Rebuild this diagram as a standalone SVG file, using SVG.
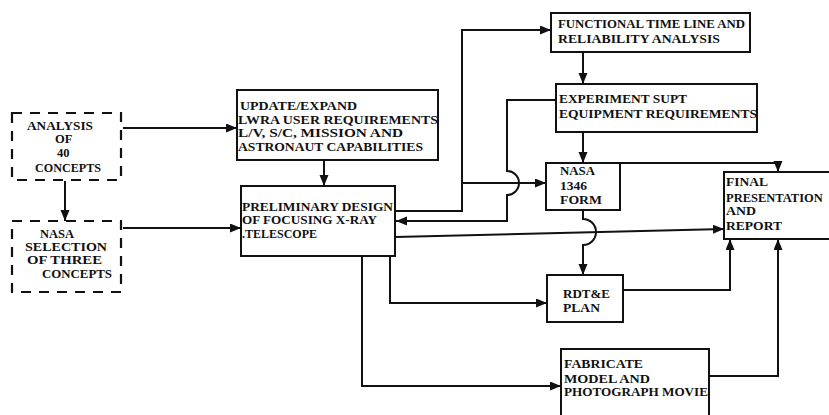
<svg xmlns="http://www.w3.org/2000/svg" width="829" height="415" viewBox="0 0 829 415">
<defs>
<marker id="ah" markerUnits="userSpaceOnUse" markerWidth="12" markerHeight="10" refX="11" refY="4.5" orient="auto">
<path d="M0,0 L11,4.5 L0,9 z" fill="#111"/>
</marker>
<style>
.box{fill:#fff;stroke:#111;stroke-width:2}
.dash{fill:#fff;stroke:#111;stroke-width:2.2;stroke-dasharray:10 8}
.t{font-family:"Liberation Serif","Times New Roman",serif;font-weight:bold;font-size:12.5px;fill:#111}
.c{fill:none;stroke:#111;stroke-width:2}
.ca{fill:none;stroke:#111;stroke-width:2;marker-end:url(#ah)}
</style>
</defs>
<rect width="829" height="415" fill="#fff"/>

<g id="connectors">
<path class="ca" d="M123,128 H237"/>
<path class="ca" d="M123,228 H241"/>
<path class="ca" d="M65,181 V221"/>
<path class="ca" d="M324,160 V186"/>
<path class="ca" d="M395,211 H462 V30 H551"/>
<path class="ca" d="M462,183 H546"/>
<path class="ca" d="M556,100 H507 V171 A12,12 0 0 1 507,195 V221 H396"/>
<path class="ca" d="M395,237 L724,229"/>
<path class="ca" d="M583,52 V84"/>
<path class="ca" d="M583,132 V163"/>
<path class="ca" d="M583,210 V219 A13,13 0 0 1 583,245 V275"/>
<path class="ca" d="M620,163 H778 V172"/>
<path class="ca" d="M623,290 H730 V239"/>
<path class="ca" d="M709,376 H778 V239"/>
<path class="ca" d="M390,256 V303 H547"/>
<path class="ca" d="M362,256 V386 H561"/>
</g>

<g id="analysis">
<rect class="dash" x="12" y="113" width="109" height="67"/>
<text class="t" x="27" y="130" textLength="66" lengthAdjust="spacingAndGlyphs">ANALYSIS</text>
<text class="t" x="55" y="143">OF</text>
<text class="t" x="57" y="157">40</text>
<text class="t" x="35" y="172" textLength="66" lengthAdjust="spacingAndGlyphs">CONCEPTS</text>
</g>

<g id="selection">
<rect class="dash" x="12" y="221" width="109" height="71"/>
<text class="t" x="40" y="238">NASA</text>
<text class="t" x="25" y="251" textLength="82" lengthAdjust="spacingAndGlyphs">SELECTION</text>
<text class="t" x="27" y="264" textLength="75" lengthAdjust="spacingAndGlyphs">OF THREE</text>
<text class="t" x="42" y="278" textLength="70" lengthAdjust="spacingAndGlyphs">CONCEPTS</text>
</g>

<g id="update">
<rect class="box" x="237" y="90" width="201" height="70"/>
<text class="t" x="240" y="110" textLength="117" lengthAdjust="spacingAndGlyphs">UPDATE/EXPAND</text>
<text class="t" x="238" y="124" textLength="200" lengthAdjust="spacingAndGlyphs">LWRA USER REQUIREMENTS</text>
<text class="t" x="238" y="137" textLength="165" lengthAdjust="spacingAndGlyphs">L/V, S/C, MISSION AND</text>
<text class="t" x="238" y="151" textLength="185" lengthAdjust="spacingAndGlyphs">ASTRONAUT CAPABILITIES</text>
</g>

<g id="preliminary">
<rect class="box" x="241" y="186" width="154" height="70"/>
<text class="t" x="242" y="211" textLength="151" lengthAdjust="spacingAndGlyphs">PRELIMINARY DESIGN</text>
<text class="t" x="242" y="224" textLength="135" lengthAdjust="spacingAndGlyphs">OF FOCUSING X-RAY</text>
<text class="t" x="242" y="238" textLength="75" lengthAdjust="spacingAndGlyphs">.TELESCOPE</text>
</g>

<g id="functional">
<rect class="box" x="551" y="13" width="199" height="39"/>
<text class="t" x="558" y="28" textLength="187" lengthAdjust="spacingAndGlyphs">FUNCTIONAL TIME LINE AND</text>
<text class="t" x="558" y="43" textLength="162" lengthAdjust="spacingAndGlyphs">RELIABILITY ANALYSIS</text>
</g>

<g id="experiment">
<rect class="box" x="556" y="84" width="201" height="48"/>
<text class="t" x="559" y="103" textLength="128" lengthAdjust="spacingAndGlyphs">EXPERIMENT SUPT</text>
<text class="t" x="559" y="118" textLength="198" lengthAdjust="spacingAndGlyphs">EQUIPMENT REQUIREMENTS</text>
</g>

<g id="nasa1346">
<rect class="box" x="546" y="163" width="74" height="47"/>
<text class="t" x="560" y="175" textLength="35" lengthAdjust="spacingAndGlyphs">NASA</text>
<text class="t" x="560" y="190" textLength="27" lengthAdjust="spacingAndGlyphs">1346</text>
<text class="t" x="560" y="204" textLength="42" lengthAdjust="spacingAndGlyphs">FORM</text>
</g>

<g id="final">
<rect class="box" x="724" y="172" width="115" height="67"/>
<text class="t" x="726" y="186" textLength="42" lengthAdjust="spacingAndGlyphs">FINAL</text>
<text class="t" x="726" y="202">PRESENTATION</text>
<text class="t" x="726" y="215" textLength="30" lengthAdjust="spacingAndGlyphs">AND</text>
<text class="t" x="726" y="230" textLength="56" lengthAdjust="spacingAndGlyphs">REPORT</text>
</g>

<g id="rdte">
<rect class="box" x="547" y="275" width="76" height="47"/>
<text class="t" x="563" y="298" textLength="47" lengthAdjust="spacingAndGlyphs">RDT&amp;E</text>
<text class="t" x="563" y="312" textLength="37" lengthAdjust="spacingAndGlyphs">PLAN</text>
</g>

<g id="fabricate">
<rect class="box" x="561" y="349" width="148" height="75"/>
<text class="t" x="564" y="368" textLength="79" lengthAdjust="spacingAndGlyphs">FABRICATE</text>
<text class="t" x="564" y="383" textLength="86" lengthAdjust="spacingAndGlyphs">MODEL AND</text>
<text class="t" x="564" y="396" textLength="144" lengthAdjust="spacingAndGlyphs">PHOTOGRAPH MOVIE</text>
</g>
</svg>
